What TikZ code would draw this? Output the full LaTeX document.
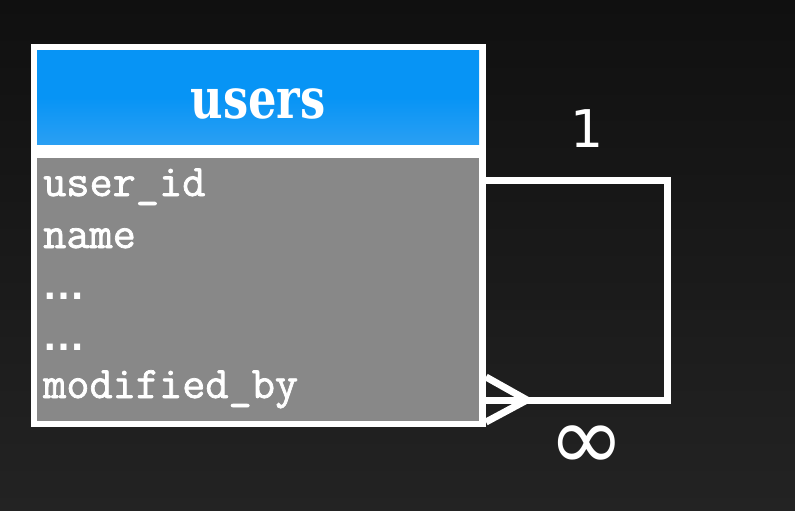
\documentclass[tikz,border=0pt]{standalone}
\usepackage{fontspec}
\newfontfamily\fieldfont{Latin Modern Mono}[FakeBold=1.6]
\newfontfamily\ellipfont{Liberation Sans}
\newfontfamily\titlefont{DejaVu Serif}[FakeStretch=0.8]
\newfontfamily\relfont{DejaVu Sans}
\definecolor{bgtop}{HTML}{101010}
\definecolor{bgmid}{HTML}{1D1D1D}
\definecolor{bgbot}{HTML}{232323}
\definecolor{headblue}{HTML}{0794F5}
\definecolor{headblue2}{HTML}{2A9FF3}
\definecolor{bodygray}{HTML}{888888}
\tikzset{
  tablebox/.style={draw=white, fill=white, line width=7pt, minimum width=448pt, minimum height=376pt, inner sep=0pt},
  headbox/.style={top color=headblue, bottom color=headblue2, middle color=headblue, minimum width=442pt, minimum height=93pt, inner sep=0pt},
  bodybox/.style={fill=bodygray, minimum width=442pt, minimum height=263pt, inner sep=0pt},
  fieldtext/.style={text=white, anchor=base west, inner sep=0pt, font=\fieldfont\fontsize{45}{45}\selectfont},
  dotstext/.style={fieldtext, font=\ellipfont\bfseries\fontsize{43}{43}\selectfont},
  reltext/.style={text=white, inner sep=0pt, font=\relfont\fontsize{52}{52}\selectfont},
  relline/.style={draw=white, line width=7pt, line join=miter}
}
\begin{document}
\begin{tikzpicture}[x=1pt,y=-1pt]
  \useasboundingbox (0,0) rectangle (795,511);
  \shade[top color=bgtop, middle color=bgmid, bottom color=bgbot] (0,0) rectangle (795,511);
  % soft glow round the table
  \foreach \g in {2,4,...,40}
    \fill[white, opacity=0.005, rounded corners=\g] (31-\g,44-\g) rectangle (486+\g,427+\g);
  \node[tablebox] (users) at (258.5,235.5) {};
  \node[headbox] (head) at (258,97.5) {};
  \node[bodybox] (body) at (258,289.5) {};
  \node[text=white, anchor=base, inner sep=0pt, font=\titlefont\bfseries\fontsize{56}{56}\selectfont] (title) at (258,118) {users};
  \node[fieldtext] (f1) at (43,196) {user\_id};
  \node[fieldtext] (f2) at (43,248) {name};
  \node[dotstext] (f3) at (42,299) {…};
  \node[dotstext] (f4) at (42,350) {…};
  \node[fieldtext] (f5) at (43,398) {modified\_by};
  % self relation
  \coordinate (reltop) at (667,180.5);
  \coordinate (relbot) at (667,400);
  \coordinate (crow) at (527,400);
  \draw[relline] (users.east |- reltop) -- (reltop) -- (relbot) -- (crow);
  \draw[relline] (users.east |- 0,377) -- (crow) -- (users.east |- 0,422);
  \draw[relline] (users.east |- crow) -- (crow);
  \node[reltext] (one) at (587,129) {1};
  \node[reltext, font=\relfont\fontsize{92}{92}\selectfont] (many) at (587,448) {∞};
\end{tikzpicture}
\end{document}
